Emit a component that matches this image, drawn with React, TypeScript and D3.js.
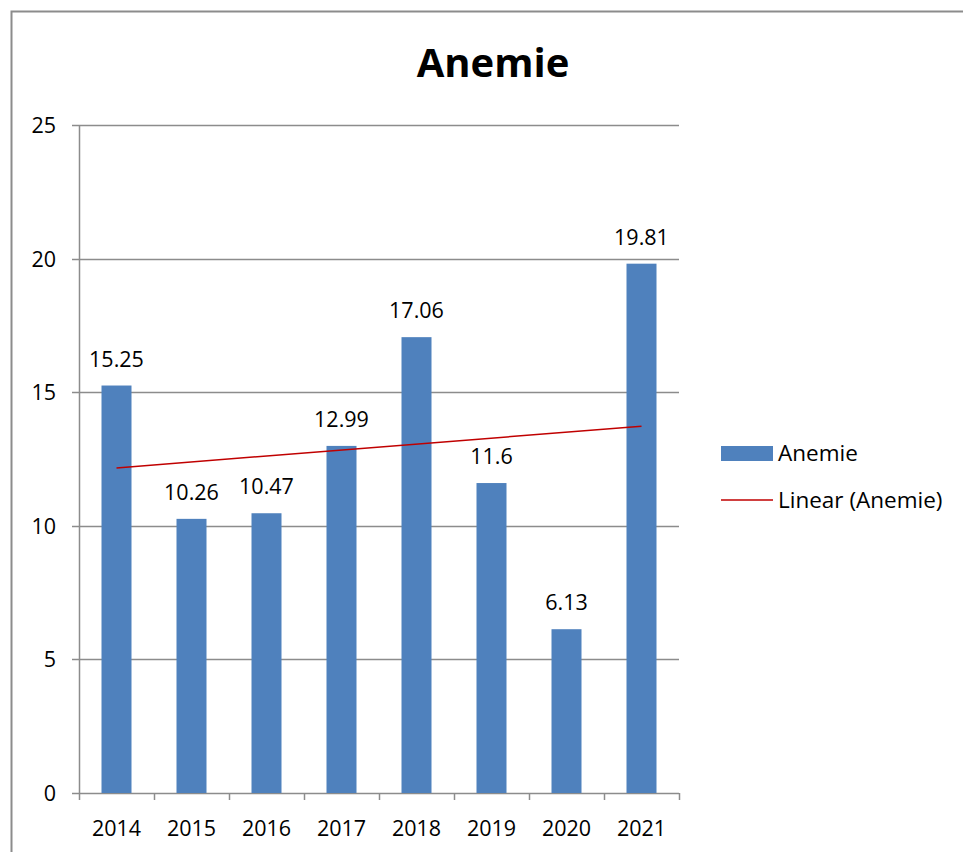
import React from "react";
import * as d3 from "d3";

const categories = ["2014", "2015", "2016", "2017", "2018", "2019", "2020", "2021"];
const values = [15.25, 10.26, 10.47, 12.99, 17.06, 11.6, 6.13, 19.81];
const valueLabels = ["15.25", "10.26", "10.47", "12.99", "17.06", "11.6", "6.13", "19.81"];
const yTicks = [0, 5, 10, 15, 20, 25];
const seriesName = "Anemie";
const trendName = "Linear (Anemie)";
const title = "Anemie";

const W = 963;
const H = 852;
const plot = { left: 79, right: 679, top: 125, bottom: 793 };
const FONT = "'Open Sans', Lato, sans-serif";
const BAR = "#4F81BD";
const GRID = "#8c8c8c";
const FS = 21.5;

export default function App() {
  const x = d3.scaleBand<string>().domain(categories).range([plot.left, plot.right]).paddingInner(0.6).paddingOuter(0.3);
  const xb = d3.scaleBand<string>().domain(categories).range([plot.left, plot.right]);
  const y = d3.scaleLinear().domain([0, 25]).range([plot.bottom, plot.top]);

  // linear regression trendline
  const n = values.length;
  const xm = (n - 1) / 2;
  const ym = d3.mean(values) as number;
  let sxy = 0, sxx = 0;
  values.forEach((v, i) => { sxy += (i - xm) * (v - ym); sxx += (i - xm) * (i - xm); });
  const slope = sxy / sxx;
  const icpt = ym - slope * xm;
  const cx = (c: string) => (xb(c) as number) + xb.bandwidth() / 2;
  const trend = d3.line<number>()
    .x((i) => cx(categories[i]))
    .y((i) => y(icpt + slope * i));
  const trendPts = [0, n - 1];

  return (
    <svg width={W} height={H} style={{ position: "absolute", left: 0, top: 0, background: "#fff" }} fontFamily={FONT}>
      <rect x={0} y={0} width={W} height={H} fill="#fff" />
      <path d={`M11.5,${H + 5}V11.5H${W + 5}`} fill="none" stroke={GRID} strokeWidth={2} />
      <text x={493} y={77} textAnchor="middle" fontSize={40} fontWeight="bold" fill="#000">{title}</text>
      {yTicks.map((t) => (
        <g key={t}>
          <line x1={plot.left - 7} x2={plot.right} y1={Math.round(y(t)) + 0.5} y2={Math.round(y(t)) + 0.5} stroke={GRID} strokeWidth={1.5} />
          <text x={56} y={y(t) + 8} textAnchor="end" fontSize={FS} fill="#000">{t}</text>
        </g>
      ))}
      <line x1={plot.left + 0.5} x2={plot.left + 0.5} y1={plot.top} y2={plot.bottom + 7} stroke={GRID} strokeWidth={1.5} />
      {categories.map((c, i) => (
        <g key={c}>
          <line x1={(xb(c) as number) + xb.bandwidth() + 0.5} x2={(xb(c) as number) + xb.bandwidth() + 0.5} y1={plot.bottom} y2={plot.bottom + 7} stroke={GRID} strokeWidth={1.5} />
          <rect x={x(c)} y={y(values[i])} width={x.bandwidth()} height={plot.bottom - y(values[i])} fill={BAR} />
          <text x={cx(c)} y={y(values[i]) - 19} textAnchor="middle" fontSize={FS} fill="#000">{valueLabels[i]}</text>
          <text x={cx(c)} y={836} textAnchor="middle" fontSize={FS} fill="#000">{c}</text>
        </g>
      ))}
      <path d={trend(trendPts) as string} fill="none" stroke="#C00000" strokeWidth={1.5} />
      <rect x={721} y={446} width={52} height={15} fill={BAR} />
      <text x={778} y={461} fontSize={22.5} fill="#000">{seriesName}</text>
      <line x1={721} x2={773} y1={500} y2={500} stroke="#C00000" strokeWidth={1.5} />
      <text x={778} y={508} fontSize={22.5} fill="#000">{trendName}</text>
    </svg>
  );
}
